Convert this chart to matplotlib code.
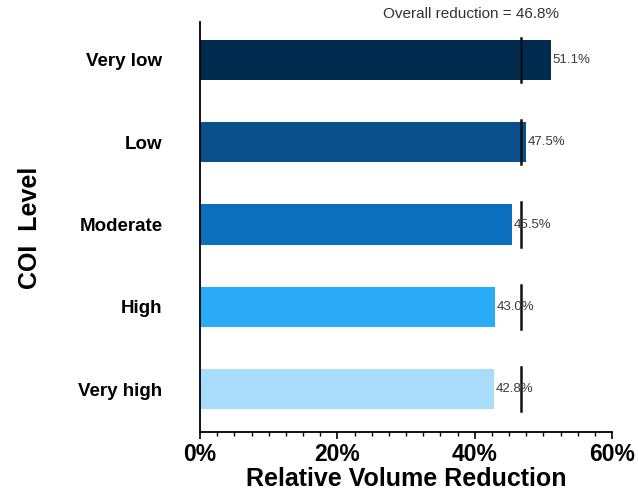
import matplotlib.pyplot as plt
from matplotlib.ticker import MultipleLocator, FuncFormatter

plt.rcParams['font.family'] = ['Liberation Sans', 'DejaVu Sans']

# data
levels = ['Very high', 'High', 'Moderate', 'Low', 'Very low']
reduction = [42.8, 43.0, 45.5, 47.5, 51.1]
overall = 46.8
colors = ['#a8dcfb', '#2aabf7', '#0a6fbd', '#0b4f8b', '#012b4e']

fig = plt.figure(figsize=(6.38, 4.96), dpi=100)
ax = fig.add_axes([200/638, 1 - 432/496, 412/638, 410/496])

ypos = list(range(len(levels)))
bar_h = 0.49
ax.barh(ypos, reduction, height=bar_h, color=colors, edgecolor='none', zorder=2)

# overall reference line drawn over each bar
for y in ypos:
    ax.plot([overall, overall], [y - 0.27, y + 0.27], color='#111111', lw=1.8, zorder=3)

for y, v in zip(ypos, reduction):
    ax.text(v + 0.25, y, f'{v:.1f}%', va='center', ha='left', fontsize=9.5,
            color='#3a3a3a', zorder=4)

ax.text((471 - 200) / 412, 1.0 + 8/410, f'Overall reduction = {overall}%', transform=ax.transAxes,
        ha='center', va='center', fontsize=11, color='#333333')

ax.set_xlim(0, 60)
ax.set_ylim(-0.52, 4.46)
ax.set_yticks(ypos)
ax.set_yticklabels(levels, fontsize=13.5, fontweight='bold')
ax.tick_params(axis='y', length=0, pad=27)

ax.xaxis.set_major_locator(MultipleLocator(20))
ax.xaxis.set_minor_locator(MultipleLocator(2.5))
ax.xaxis.set_major_formatter(FuncFormatter(lambda x, p: f'{x:.0f}%'))
ax.tick_params(axis='x', which='major', length=5, width=1.2, labelsize=16.5, pad=3)
ax.tick_params(axis='x', which='minor', length=3, width=1.0)
for lab in ax.get_xticklabels():
    lab.set_fontweight('bold')

ax.set_xlabel('Relative Volume Reduction', fontsize=18, fontweight='bold', labelpad=1)
ax.set_ylabel('COI  Level', fontsize=18, fontweight='bold')
ax.yaxis.set_label_coords(-(200 - 42) / 412, (496 - 228 - 64) / 410)

for s in ['top', 'right']:
    ax.spines[s].set_visible(False)
ax.spines['left'].set_linewidth(1.3)
ax.spines['bottom'].set_linewidth(1.3)

fig.savefig('out.png', dpi=100)
